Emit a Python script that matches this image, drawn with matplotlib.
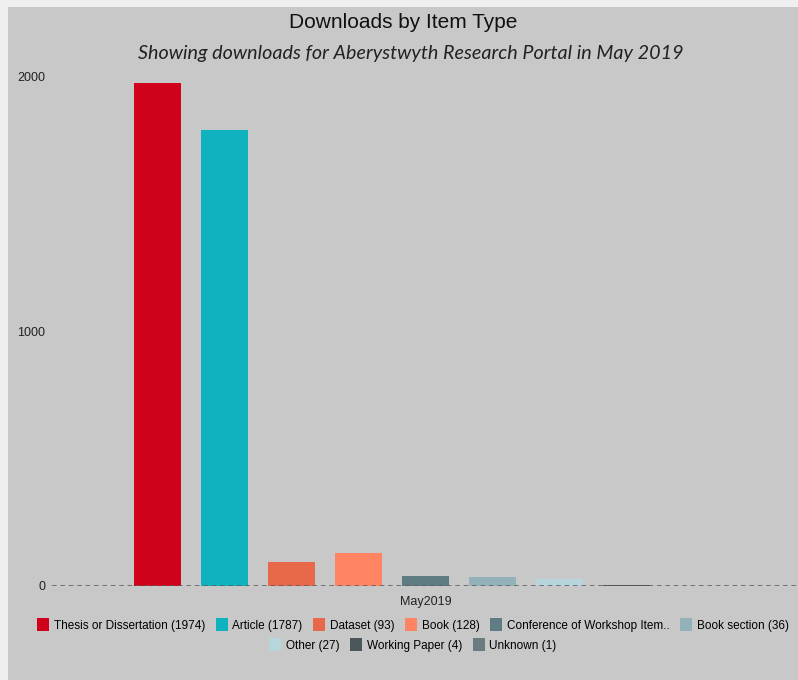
import matplotlib.pyplot as plt
from matplotlib.patches import Rectangle, Patch

categories = ['Thesis or Dissertation', 'Article', 'Dataset', 'Book',
              'Conference of Workshop Item..', 'Book section', 'Other',
              'Working Paper', 'Unknown']
downloads = [1974, 1787, 93, 128, 40, 36, 27, 4, 1]
legend_labels = ['Thesis or Dissertation (1974)', 'Article (1787)', 'Dataset (93)',
                 'Book (128)', 'Conference of Workshop Item..', 'Book section (36)',
                 'Other (27)', 'Working Paper (4)', 'Unknown (1)']
colors = ['#d0021b', '#0fb2bf', '#e8694a', '#fe8463', '#5f7c83',
          '#93b1b8', '#b7d6dc', '#4c575c', '#6c7b7f']
month = 'May2019'

W, H = 798, 680
fig = plt.figure(figsize=(W / 100, H / 100), dpi=100)
fig.patch.set_facecolor('#efefef')
fig.patches.append(Rectangle((8 / W, 0), 1, 1 - 7 / H, transform=fig.transFigure,
                             facecolor='#c8c8c8', edgecolor='none', zorder=-5))

# axes: x from 52 to 798 px, y 0 at 586 px, 2000 at 76 px
y0_px, y2000_px = 586, 76
ymax_px = 60
px_per_unit = (y0_px - y2000_px) / 2000
ax_bottom = (H - y0_px) / H
ax_top = (H - ymax_px) / H
ax = fig.add_axes([52 / W, ax_bottom, (W - 52) / W, ax_top - ax_bottom])
ax.set_facecolor('none')
ax.set_ylim(0, (y0_px - ymax_px) / px_per_unit)

x = list(range(len(categories)))
ax.bar(x, downloads, width=47 / 67, color=colors, zorder=2)
ax.set_xlim((52 - 157.5) / 67, (798 - 157.5) / 67)

ax.axhline(0, color='#5a5a5a', linestyle=(0, (3, 2.5)), linewidth=1.1, zorder=3)
for s in ax.spines.values():
    s.set_visible(False)
ax.set_xticks([4])
ax.set_xticklabels([month], fontsize=9, family='Liberation Sans', color='#222222')
ax.set_yticks([0, 1000, 2000])
ax.set_yticklabels(['0', '1000', '2000'], fontsize=9, family='Liberation Sans',
                   color='#222222')
ax.tick_params(length=0, axis='y', pad=5)
ax.tick_params(length=0, axis='x', pad=7)

fig.text(403 / W, 1 - 23 / H, 'Downloads by Item Type', ha='center', va='center',
         fontsize=15, family='Liberation Sans', color='#111111')
fig.text(411 / W, 1 - 54 / H,
         'Showing downloads for Aberystwyth Research Portal in May 2019',
         ha='center', va='center', fontsize=14.2, family='Lato', style='italic',
         color='#222222')

row1 = [Patch(facecolor=colors[i], label=legend_labels[i]) for i in range(6)]
row2 = [Patch(facecolor=colors[i], label=legend_labels[i]) for i in range(6, 9)]
for handles, ypx in ((row1, 625), (row2, 645)):
    fig.legend(handles=handles, loc='center', bbox_to_anchor=(413 / W, 1 - ypx / H),
               ncol=len(handles), frameon=False,
               prop={'family': 'Liberation Sans', 'size': 8.5},
               handlelength=1.0, handleheight=1.3, handletextpad=0.4,
               columnspacing=0.9, borderpad=0)

fig.savefig('out.png', dpi=100, facecolor=fig.get_facecolor())
